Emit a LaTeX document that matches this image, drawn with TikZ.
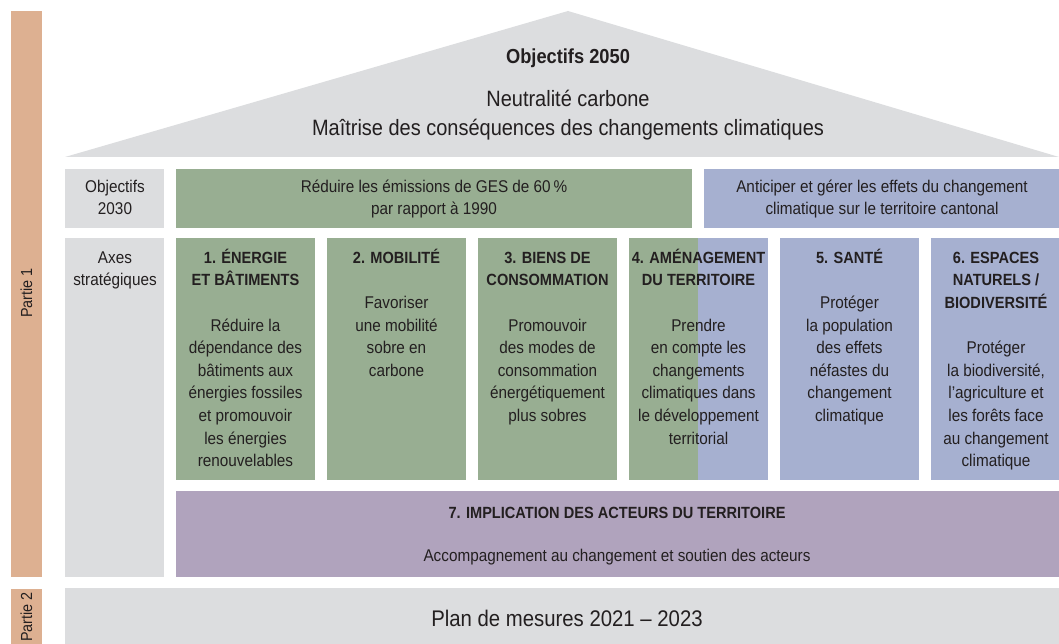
\documentclass[tikz,border=0pt]{standalone}
\usepackage{fontspec}
\setmainfont{Liberation Sans}[FakeStretch=0.9]
\definecolor{ink}{HTML}{231F20}
\definecolor{tanbar}{HTML}{DDB091}
\definecolor{pale}{HTML}{DCDDDF}
\definecolor{sage}{HTML}{98AE92}
\definecolor{lav}{HTML}{A6B0D0}
\definecolor{mauve}{HTML}{B0A3BD}
\newcommand\fl{\rule{0pt}{18pt}}
\newcommand\hd{\fontsize{16.2}{22.6}\selectfont\bfseries}
\tikzset{
  txt/.style={inner sep=0pt, anchor=north, align=center, text=ink,
    font=\fontsize{17}{22.6}\selectfont},
  one/.style={inner sep=0pt, anchor=base, text=ink},
  partlabel/.style={text=ink, font=\fontsize{16}{18}\selectfont, rotate=90, inner sep=0pt},
}
\begin{document}
\begin{tikzpicture}[x=1pt,y=-1pt]
\useasboundingbox (0,0) rectangle (1059,644);
% side bars
\fill[tanbar] (11,11) rectangle (42,577);
\fill[tanbar] (11,589) rectangle (42,644);
\node[partlabel] (p1) at (26.5,293) {Partie 1};
\node[partlabel] (p2) at (26.5,617) {Partie 2};
% roof
\fill[pale] (65,157) -- (568,11) -- (1059,157) -- cycle;
\node[one, font=\fontsize{20.3}{24}\selectfont\bfseries] (o2050) at (568,64) {Objectifs 2050};
\node[txt, font=\fontsize{22.2}{29}\selectfont] (neutr) at (568,86) {\rule{0pt}{20pt}Neutralité carbone\\Maîtrise des conséquences des changements climatiques};
% left labels
\fill[pale] (65,169) rectangle (164,228);
\fill[pale] (65,238) rectangle (164,577);
\node[txt] (l2030) at (115,174) {\fl Objectifs\\2030};
\node[txt] (laxes) at (115,245) {\fl Axes\\stratégiques};
% 2030 objectives
\fill[sage] (176,169) rectangle (692,228);
\fill[lav] (704,169) rectangle (1059,228);
\node[txt] (g2030) at (434,174) {\fl Réduire les émissions de GES de 60\,\%\\par rapport à 1990};
\node[txt] (b2030) at (882,174) {\fl Anticiper et gérer les effets du changement\\climatique sur le territoire cantonal};
% columns
\fill[sage] (176,238) rectangle (315,480);
\fill[sage] (327,238) rectangle (466,480);
\fill[sage] (478,238) rectangle (617,480);
\fill[sage] (629,238) rectangle (698,480);
\fill[lav] (698,238) rectangle (768,480);
\fill[lav] (780,238) rectangle (919,480);
\fill[lav] (931,238) rectangle (1059,480);
\node[txt] (c1) at (245.5,245) {\fl{\hd 1. ÉNERGIE}\\{\hd ET BÂTIMENTS}\\[22.6pt]Réduire la\\dépendance des\\bâtiments aux\\énergies fossiles\\et promouvoir\\les énergies\\renouvelables};
\node[txt] (c2) at (396.5,245) {\fl{\hd 2. MOBILITÉ}\\[22.6pt]Favoriser\\une mobilité\\sobre en\\carbone};
\node[txt] (c3) at (547.5,245) {\fl{\hd 3. BIENS DE}\\{\hd CONSOMMATION}\\[22.6pt]Promouvoir\\des modes de\\consommation\\énergétiquement\\plus sobres};
\node[txt] (c4) at (698.5,245) {\fl{\hd 4. AMÉNAGEMENT}\\{\hd DU TERRITOIRE}\\[22.6pt]Prendre\\en compte les\\changements\\climatiques dans\\le développement\\territorial};
\node[txt] (c5) at (849.5,245) {\fl{\hd 5. SANTÉ}\\[22.6pt]Protéger\\la population\\des effets\\néfastes du\\changement\\climatique};
\node[txt] (c6) at (996,245) {\fl{\hd 6. ESPACES}\\{\hd NATURELS /}\\{\hd BIODIVERSITÉ}\\[22.6pt]Protéger\\la biodiversité,\\l’agriculture et\\les forêts face\\au changement\\climatique};
% axis 7
\fill[mauve] (176,491) rectangle (1059,577);
\node[one, font=\hd] (a7) at (617,518) {7. IMPLICATION DES ACTEURS DU TERRITOIRE};
\node[one, font=\fontsize{17}{22.6}\selectfont] (a7b) at (617,561) {Accompagnement au changement et soutien des acteurs};
% part 2
\fill[pale] (65,588) rectangle (1059,644);
\node[one, font=\fontsize{22.6}{27}\selectfont] (plan) at (567,626) {Plan de mesures 2021 – 2023};
\end{tikzpicture}
\end{document}
